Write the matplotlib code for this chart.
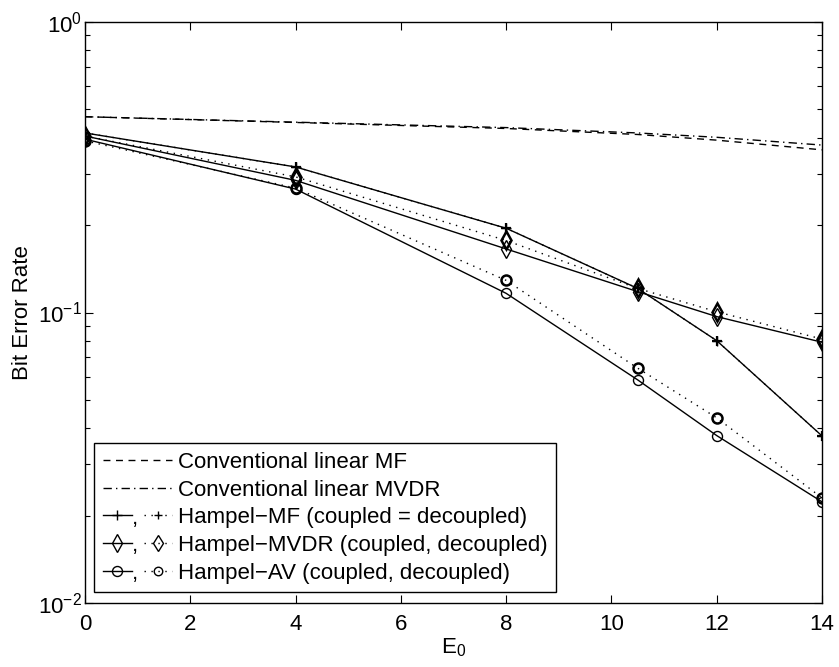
import matplotlib
matplotlib.use("Agg")
import matplotlib.pyplot as plt
from matplotlib.lines import Line2D
from matplotlib.text import Text
from matplotlib.ticker import LogLocator, LogFormatterMathtext, FixedLocator
import numpy as np

plt.rcParams['font.family'] = ['Liberation Sans', 'DejaVu Sans']
plt.rcParams['mathtext.fontset'] = 'custom'
plt.rcParams['mathtext.rm'] = 'Liberation Sans'
plt.rcParams['mathtext.it'] = 'Liberation Sans'
plt.rcParams['mathtext.default'] = 'regular'

# ---------------- data ----------------
x = [0, 4, 8, 10.5, 12, 14]
conv_mf = [0.472, 0.451, 0.430, 0.410, 0.392, 0.363]
conv_mvdr = [0.472, 0.452, 0.433, 0.415, 0.401, 0.377]
hampel_mf_coupled = [0.415, 0.317, 0.195, 0.121, 0.080, 0.0376]
hampel_mf_decoupled = [0.415, 0.317, 0.195, 0.121, 0.080, 0.0376]
hampel_mvdr_coupled = [0.405, 0.285, 0.1655, 0.118, 0.0968, 0.079]
hampel_mvdr_decoupled = [0.405, 0.293, 0.177, 0.121, 0.1006, 0.081]
hampel_av_coupled = [0.395, 0.266, 0.1164, 0.0586, 0.0377, 0.0223]
hampel_av_decoupled = [0.390, 0.268, 0.129, 0.0643, 0.0434, 0.0230]

labels = ["Conventional linear MF",
          "Conventional linear MVDR",
          "Hampel\u2212MF (coupled = decoupled)",
          "Hampel\u2212MVDR (coupled, decoupled)",
          "Hampel\u2212AV (coupled, decoupled)"]
xticks = [0, 2, 4, 6, 8, 10, 12, 14]

FS = 16
fig = plt.figure(figsize=(8.39, 6.67), dpi=100)
ax = fig.add_axes([85/839, 1 - 603/667, (822-85)/839, (603-22)/667])

lw = 1.0
DASH = (0, (5, 4))
DASHDOT = (0, (6, 3, 1, 3))
DOT = (0, (1, 4))
ax.plot(x, conv_mf, color='k', lw=lw, linestyle=DASH)
ax.plot(x, conv_mvdr, color='k', lw=lw, linestyle=DASHDOT)

sty_solid = dict(color='k', lw=lw, linestyle='-', markerfacecolor='none')
sty_dot = dict(color='k', lw=lw, linestyle=DOT, markerfacecolor='none')

ax.plot(x, hampel_mf_decoupled, marker='+', ms=7.5, mew=1.6, **sty_dot)
ax.plot(x, hampel_mf_coupled, marker='+', ms=7.5, mew=1.0, **sty_solid)
ax.plot(x, hampel_mvdr_decoupled, marker='d', ms=9, mew=1.8, **sty_dot)
ax.plot(x, hampel_mvdr_coupled, marker='d', ms=9, mew=1.0, **sty_solid)
ax.plot(x, hampel_av_decoupled, marker='o', ms=7.2, mew=1.8, **sty_dot)
ax.plot(x, hampel_av_coupled, marker='o', ms=7.2, mew=1.0, **sty_solid)

ax.set_yscale('log')
ax.set_xlim(0, 14)
ax.set_ylim(1e-2, 1e0)
ax.xaxis.set_major_locator(FixedLocator(xticks))
ax.yaxis.set_major_locator(LogLocator(base=10, numticks=10))
ax.yaxis.set_minor_locator(LogLocator(base=10, subs=np.arange(2, 10), numticks=20))
ax.yaxis.set_major_formatter(LogFormatterMathtext())
ax.tick_params(which='both', direction='in', top=True, right=True, labelsize=FS, width=0.8)
ax.tick_params(which='major', length=6)
ax.tick_params(which='minor', length=3.5)
ax.tick_params(axis='x', pad=8)
ax.tick_params(axis='y', pad=2)
for s in ax.spines.values():
    s.set_linewidth(1.0)

ax.set_xlabel("E$_0$", fontsize=FS, labelpad=1)
ax.set_ylabel("Bit Error Rate", fontsize=FS, labelpad=4)


# ---------------- custom legend handler ----------------
class PairHandle:
    def __init__(self, marker, ms):
        self.marker = marker
        self.ms = ms


class PairHandler:
    def legend_artist(self, legend, orig_handle, fontsize, handlebox):
        x0, y0 = handlebox.xdescent, handlebox.ydescent
        w, h = handlebox.width, handlebox.height
        yc = y0 + h / 2
        w1 = w * 0.42
        m = orig_handle.marker
        msz = orig_handle.ms
        l1 = Line2D([x0, x0 + w1], [yc, yc], color='k', lw=lw)
        m1 = Line2D([x0 + w1 / 2], [yc], marker=m, ms=msz, mfc='none', mec='k', mew=1.0, ls='none')
        t = Text(x0 + w1 + 0.5, yc - 2, ",", fontsize=fontsize, ha='left', va='center')
        x2 = x0 + w1 + 9
        l2 = Line2D([x2, x0 + w], [yc, yc], color='k', lw=lw, linestyle=DOT)
        m2 = Line2D([(x2 + x0 + w) / 2], [yc], marker=m, ms=msz * 0.85, mfc='none', mec='k', mew=1.0, ls='none')
        arts = [l1, m1, t, l2, m2]
        for a in arts:
            a.set_transform(handlebox.get_transform())
            handlebox.add_artist(a)
        return l1


h_mf = Line2D([], [], color='k', lw=lw, linestyle=DASH)
h_mvdr = Line2D([], [], color='k', lw=lw, linestyle=DASHDOT)
h3 = PairHandle('+', 7.5)
h4 = PairHandle('d', 9)
h5 = PairHandle('o', 7.2)

leg = ax.legend([h_mf, h_mvdr, h3, h4, h5], labels,
                handler_map={PairHandle: PairHandler()},
                loc='lower left', bbox_to_anchor=(0.0125, 0.019), borderaxespad=0,
                fontsize=FS, handlelength=3.1, handletextpad=0.3,
                labelspacing=0.3, borderpad=0.38, fancybox=False,
                edgecolor='k', framealpha=1)
leg.get_frame().set_linewidth(1.0)

fig.savefig("out.png", dpi=100)
